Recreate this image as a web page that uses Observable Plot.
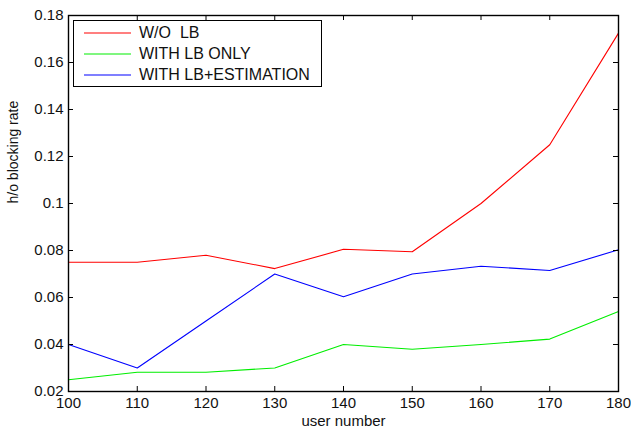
<!DOCTYPE html>
<html>
<head>
<meta charset="utf-8">
<script src="https://cdn.jsdelivr.net/npm/d3@7"></script>
<script src="https://cdn.jsdelivr.net/npm/@observablehq/plot@0.6"></script>
<style>
  body { margin: 0; background: #fff; }
  #wrap { position: relative; width: 631px; height: 430px; font-family: "Liberation Sans", Arial, sans-serif; }
  #legend { position: absolute; left: 73px; top: 20px; width: 249px; height: 67px; border: 1.3px solid #000; background: #fff; box-sizing: border-box; }
  .row { position: absolute; left: 10px; height: 20px; display: flex; align-items: center; font-size: 16px; color: #111; }
  .row svg { margin-right: 8px; }
</style>
</head>
<body>
<div id="wrap"></div>
<script>
const users = [100, 110, 120, 130, 140, 150, 160, 170, 180];
const seriesNames = ["W/O  LB", "WITH LB ONLY", "WITH LB+ESTIMATION"];
const seriesColors = ["#ff0000", "#00ee00", "#0000ff"];
const woLB = [0.075, 0.075, 0.078, 0.0723, 0.0805, 0.0795, 0.100, 0.125, 0.1725];
const lbOnly = [0.025, 0.0282, 0.0282, 0.030, 0.040, 0.038, 0.040, 0.0423, 0.054];
const lbEst = [0.040, 0.030, 0.050, 0.070, 0.0603, 0.070, 0.0733, 0.0715, 0.0803];
const yTicks = [0.02, 0.04, 0.06, 0.08, 0.1, 0.12, 0.14, 0.16, 0.18];

const allSeries = [woLB, lbOnly, lbEst];
const rows = [];
allSeries.forEach((vals, s) => vals.forEach((v, i) => rows.push({series: seriesNames[s], x: users[i], y: v})));

const W = 631, H = 430, mL = 68, mR = 13, mT = 15, mB = 39;
const pw = W - mL - mR, ph = H - mT - mB, tk = 5;

const chart = Plot.plot({
  width: W, height: H,
  marginLeft: mL, marginRight: mR, marginTop: mT, marginBottom: mB,
  style: {fontFamily: "Liberation Sans, Arial, sans-serif", fontSize: "15px", background: "#fff", color: "#111"},
  x: {domain: [100, 180]},
  y: {domain: [0.02, 0.18]},
  color: {domain: seriesNames, range: seriesColors},
  marks: [
    Plot.line(rows, {x: "x", y: "y", z: "series", stroke: "series", strokeWidth: 1.1}),
    Plot.tickX(users, {x: d => d, insetTop: ph - tk, stroke: "#000"}),
    Plot.tickX(users, {x: d => d, insetBottom: ph - tk, stroke: "#000"}),
    Plot.tickY(yTicks, {y: d => d, insetRight: pw - tk, stroke: "#000"}),
    Plot.tickY(yTicks, {y: d => d, insetLeft: pw - tk, stroke: "#000"}),
    Plot.frame({stroke: "#000", strokeWidth: 1.4}),
    Plot.axisX(users, {tickSize: 0, tickPadding: 6, fontSize: 15, label: null}),
    Plot.axisY(yTicks, {tickSize: 0, tickPadding: 5, fontSize: 15, label: null, tickFormat: d => String(+d.toFixed(2))}),
    Plot.text(["user number"], {text: d => d, frameAnchor: "bottom", dy: 34, fontSize: 15}),
    Plot.text(["h/o blocking rate"], {text: d => d, frameAnchor: "left", rotate: -90, dx: -55, fontSize: 14})
  ]
});

const wrap = document.getElementById("wrap");
wrap.appendChild(chart);
const legend = document.createElement("div");
legend.id = "legend";
const NS = "http://www.w3.org/2000/svg";
seriesNames.forEach((name, i) => {
  const r = document.createElement("div");
  r.className = "row";
  r.style.top = (2 + i * 21) + "px";
  const sw = document.createElementNS(NS, "svg");
  sw.setAttribute("width", "47");
  sw.setAttribute("height", "4");
  const ln = document.createElementNS(NS, "line");
  ln.setAttribute("x1", "0"); ln.setAttribute("x2", "47");
  ln.setAttribute("y1", "2"); ln.setAttribute("y2", "2");
  ln.setAttribute("stroke", seriesColors[i]);
  ln.setAttribute("stroke-width", "1.2");
  sw.appendChild(ln);
  r.appendChild(sw);
  const t = document.createElement("span");
  t.textContent = name;
  t.style.whiteSpace = "pre";
  r.appendChild(t);
  legend.appendChild(r);
});
wrap.appendChild(legend);
</script>
</body>
</html>
